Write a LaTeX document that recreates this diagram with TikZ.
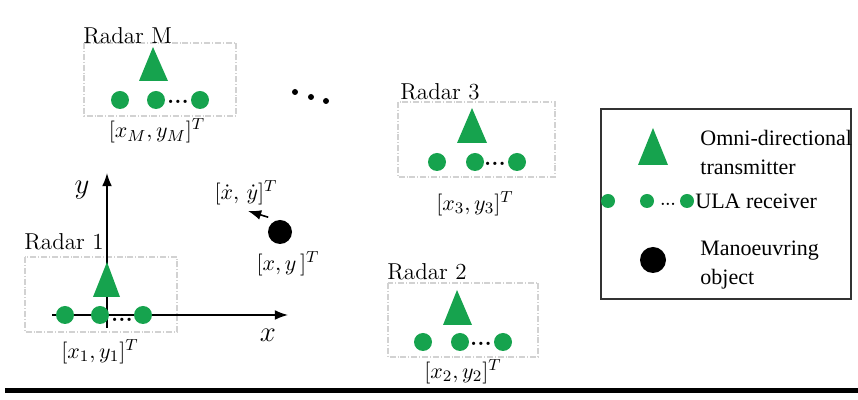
\documentclass[tikz,border=0pt]{standalone}
\usepackage{amsmath,amssymb}
\usepackage{fontspec}
\newfontfamily\legfont{Liberation Serif}
\usepackage{tikz}
\usetikzlibrary{positioning, shapes, arrows.meta, calc}

\definecolor{radgreen}{RGB}{22,163,78}

\begin{document}
\begin{tikzpicture}[x=0.5pt, y=-0.5pt, >=Latex, font=\fontsize{11.5}{13}\selectfont,
    rx/.style={circle, fill=radgreen, inner sep=0pt, minimum size=9pt},
    tx/.style={fill=radgreen},
    obj/.style={circle, fill=black, inner sep=0pt, minimum size=12pt},
    radbox/.style={draw=gray!35, densely dash dot, line width=0.9pt},
    coordlab/.style={font=\fontsize{11}{12}\selectfont},
    leg/.style={font=\legfont\fontsize{11}{14.5}\selectfont, anchor=west, align=left, inner sep=0pt}]
    \useasboundingbox (0,0) rectangle (858,400);

    % Radar M
    \draw[radbox] (84,43) rectangle (236,116);
    \node[anchor=west, inner sep=0pt] (labM) at (83,36) {Radar M};
    \fill[tx] (153,47) -- (168,81) -- (139,81) -- cycle;
    \node[rx] (m1) at (120,100) {};
    \node[rx] (m2) at (156,100) {};
    \node[rx] (m3) at (200,100) {};
    \node (mdots) at (178,102) {\textbf{...}};
    \node[coordlab] (posM) at (157,131) {$[x_M, y_M]^T$};

    % dots for the other radars
    \fill (295,92) circle (3);
    \fill (311,97) circle (3);
    \fill (326,101) circle (3);

    % Radar 3
    \draw[radbox] (398,102) rectangle (555,177);
    \node[anchor=west, inner sep=0pt] (lab3) at (400,92) {Radar 3};
    \fill[tx] (472,108) -- (487,143) -- (457,143) -- cycle;
    \node[rx] (r31) at (437,162) {};
    \node[rx] (r32) at (475,162) {};
    \node[rx] (r33) at (517,162) {};
    \node (dots3) at (495,164) {\textbf{...}};
    \node[coordlab] (pos3) at (475,204) {$[x_3, y_3]^T$};

    % Radar 2
    \draw[radbox] (388,283) rectangle (538,357);
    \node[anchor=west, inner sep=0pt] (lab2) at (387,272) {Radar 2};
    \fill[tx] (457,290) -- (472,325) -- (443,325) -- cycle;
    \node[rx] (r21) at (423,342) {};
    \node[rx] (r22) at (460,342) {};
    \node[rx] (r23) at (503,342) {};
    \node (dots2) at (481,344) {\textbf{...}};
    \node[coordlab] (pos2) at (463,372) {$[x_2, y_2]^T$};

    % Radar 1 and axes
    \draw[radbox] (25,257) rectangle (177,332);
    \node[anchor=west, inner sep=0pt] (lab1) at (24,242) {Radar 1};
    \coordinate (xs) at (52,315);
    \coordinate (xe) at (288,315);
    \coordinate (ys) at (107,328);
    \coordinate (ye) at (107,173);
    \draw[->, thick] (xs) -- (xe);
    \draw[->, thick] (ys) -- (ye);
    \node (ylab) at (82,190) {\fontsize{15}{15}\selectfont$y$};
    \node (xlab) at (268,335) {\fontsize{15}{15}\selectfont$x$};
    \fill[tx] (107,262) -- (120,297) -- (93,297) -- cycle;
    \node[rx] (r11) at (65,315) {};
    \node[rx] (r12) at (100,315) {};
    \node[rx] (r13) at (143,315) {};
    \node (dots1) at (122,320) {\textbf{...}};
    \node[coordlab] (pos1) at (100,352) {$[x_1, y_1]^T$};

    % Manoeuvring object
    \node[obj] (target) at (280,232) {};
    \node[coordlab] (postar) at (288,264) {$[x, y\,]^T$};
    \coordinate (vtip) at (248,211);
    \draw[->, thick] (target.north west) ++(-3,-6) coordinate (vstart) (vstart) -- (vtip);
    \node[coordlab] (veltar) at (246,193) {$[\dot{x},\, \dot{y}]^T$};

    % Legend
    \draw[thick, black!80] (601,109) rectangle (851,299);
    \fill[tx] (653,128) -- (668,165) -- (638,165) -- cycle;
    \node[leg] (legtx) at (700,152) {Omni-directional\\transmitter};
    \node[rx, minimum size=7pt] (lr1) at (608,201) {};
    \node[rx, minimum size=7pt] (lr2) at (647,201) {};
    \node[rx, minimum size=7pt] (lr3) at (687,201) {};
    \node[font=\scriptsize] (ldots) at (668,204) {\textbf{...}};
    \node[leg] (legrx) at (695,201) {ULA receiver};
    \node[obj, minimum size=13pt] (lobj) at (653,260) {};
    \node[leg] (legobj) at (700,265) {Manoeuvring\\object};

    % bottom rule
    \draw[line width=2.5pt] (5,391) -- (858,391);
\end{tikzpicture}
\end{document}
